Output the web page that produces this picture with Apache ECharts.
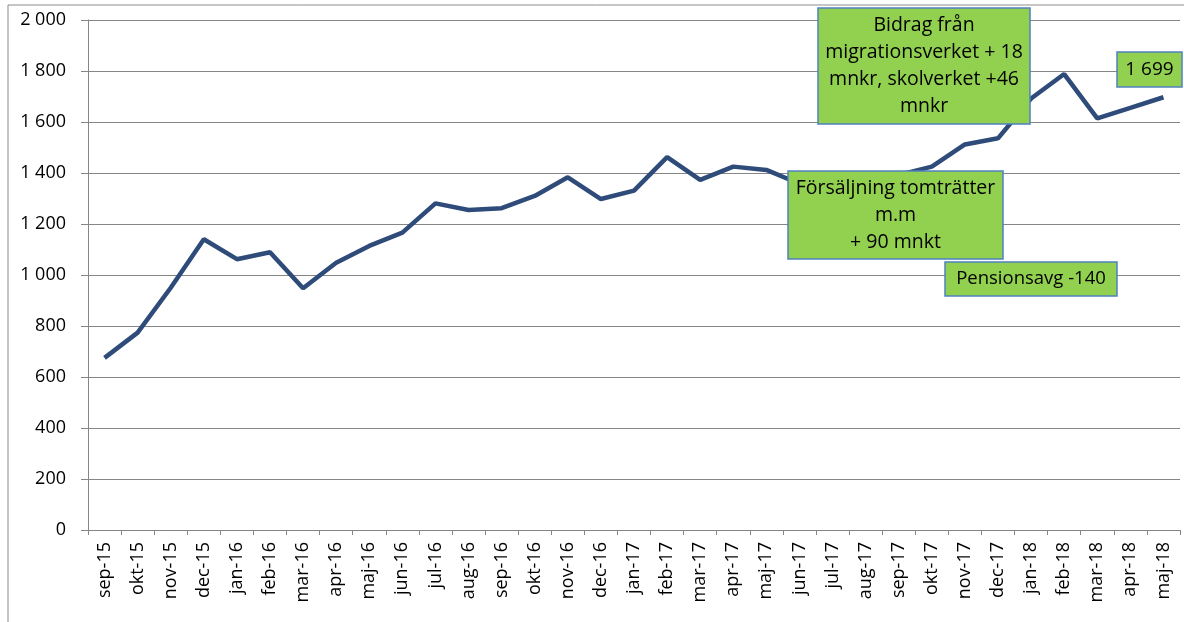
<!DOCTYPE html>
<html>
<head>
<meta charset="utf-8">
<script src="https://cdn.jsdelivr.net/npm/echarts@6/dist/echarts.min.js"></script>
<style>
  html, body { margin: 0; padding: 0; background: #fff; }
  #main { width: 1184px; height: 622px; }
</style>
</head>
<body>
<div id="main"></div>
<script>
// månader
var months = ['sep-15','okt-15','nov-15','dec-15','jan-16','feb-16','mar-16','apr-16','maj-16','jun-16',
  'jul-16','aug-16','sep-16','okt-16','nov-16','dec-16','jan-17','feb-17','mar-17','apr-17','maj-17',
  'jun-17','jul-17','aug-17','sep-17','okt-17','nov-17','dec-17','jan-18','feb-18','mar-18','apr-18','maj-18'];
// värden (mnkr)
var values = [675, 774, 950, 1140, 1062, 1089, 948, 1048, 1114, 1166,
  1281, 1255, 1262, 1310, 1383, 1298, 1331, 1462, 1373, 1425, 1412,
  1358, 1335, 1350, 1392, 1425, 1512, 1536, 1692, 1788, 1614, 1655, 1697];
var yTicks = [0, 200, 400, 600, 800, 1000, 1200, 1400, 1600, 1800, 2000];

var fontFam = '"Open Sans", "DejaVu Sans", sans-serif';

// textruta med grön bakgrund
var noteBox = function(x, y, w, h, lines, lh, fs) {
    return [
        {
            type: 'rect',
            z: 100,
            shape: { x: x, y: y, width: w, height: h },
            style: { fill: '#92D050', stroke: '#4F81BD', lineWidth: 1.5 }
        },
        {
            type: 'text',
            z: 101,
            x: x + w / 2,
            y: y + h / 2,
            style: {
                text: lines.join('\n'),
                fontSize: fs,
                fontFamily: fontFam,
                fill: '#000',
                align: 'center',
                verticalAlign: 'middle',
                lineHeight: lh
            }
        }
    ];
};

var fmt = function(v) {
    var s = String(v);
    if (v >= 1000) s = s.slice(0, s.length - 3) + ' ' + s.slice(s.length - 3);
    return s;
};

var graphics = [
    {
        type: 'rect',
        z: -1,
        shape: { x: 8, y: 5, width: 1300, height: 800 },
        style: { fill: 'none', stroke: '#8C8C8C', lineWidth: 1 }
    }
];
graphics = graphics
    .concat(noteBox(818, 8, 212, 116, ['Bidrag från', 'migrationsverket + 18', 'mnkr, skolverket +46', 'mnkr'], 27, 19.5))
    .concat(noteBox(1117, 52, 65, 35, ['1 699'], 20, 19))
    .concat(noteBox(788, 171, 215, 88, ['Försäljning tomträtter', 'm.m', '+ 90 mnkt'], 27, 19.5))
    .concat(noteBox(945, 262, 172, 34, ['Pensionsavg -140'], 20, 18.5));

var myChart = echarts.init(document.getElementById('main'));
var option = {
    animation: false,
    backgroundColor: '#fff',
    grid: { left: 88, right: 4, top: 20, bottom: 92 },
    xAxis: {
        type: 'category',
        data: months,
        boundaryGap: true,
        axisLine: { lineStyle: { color: '#868686', width: 1 } },
        axisTick: { show: true, alignWithLabel: false, length: 5, lineStyle: { color: '#868686' } },
        axisLabel: {
            rotate: 90,
            interval: 0,
            margin: 12,
            color: '#000',
            fontSize: 18,
            fontFamily: fontFam
        },
        splitLine: { show: false }
    },
    yAxis: {
        type: 'value',
        min: yTicks[0],
        max: yTicks[yTicks.length - 1],
        interval: 200,
        axisLine: { show: true, lineStyle: { color: '#868686', width: 1 } },
        axisTick: { show: true, inside: false, length: 7, lineStyle: { color: '#868686' } },
        axisLabel: {
            color: '#000',
            fontSize: 18,
            fontFamily: fontFam,
            margin: 22,
            formatter: fmt
        },
        splitLine: { show: true, lineStyle: { color: '#868686', width: 1 } }
    },
    series: [
        {
            type: 'line',
            data: values,
            symbol: 'none',
            lineStyle: { color: '#2E4B7A', width: 4.5 },
            z: 5
        }
    ],
    graphic: graphics
};
myChart.setOption(option);
</script>
</body>
</html>
